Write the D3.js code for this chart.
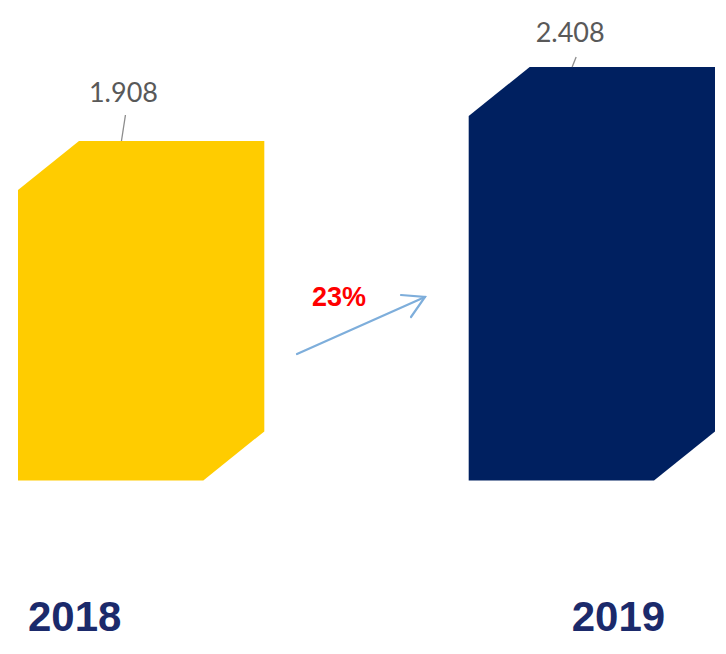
<!DOCTYPE html>
<html><head><meta charset="utf-8">
<script src="https://cdn.jsdelivr.net/npm/d3@7"></script>
<style>body{margin:0;background:#fff;}svg{display:block;}</style>
</head><body>
<svg id="c" width="726" height="654"></svg>
<script>
const categories = ["2018", "2019"];
const values = [1.908, 2.408];
const valueLabels = ["1.908", "2.408"];
const colors = ["#FFCC00", "#002060"];
const growthLabel = "23%";

const svg = d3.select("#c");
const x = d3.scaleBand().domain(categories).range([18, 715]).paddingInner(0.4535).paddingOuter(0);
const y = d3.scaleLinear().domain([0, 2.408]).range([423.4, 67]);
const depth = 57, bevelX = 61, bevelY = 49;

const g = svg.append("g");
categories.forEach((c, i) => {
  const x0 = x(c), x1 = x(c) + x.bandwidth();
  const yt = y(values[i]), yb = y(0) + depth;
  const pts = [[x0 + bevelX, yt], [x1, yt], [x1, yb - bevelY], [x1 - bevelX, yb], [x0, yb], [x0, yt + bevelY]];
  g.append("path").attr("d", d3.line()(pts) + "Z").attr("fill", colors[i]);
  const cx = x0 + x.bandwidth() * 0.42;
  g.append("line").attr("x1", cx + 4).attr("y1", yt - (i === 0 ? 26 : 10)).attr("x2", cx).attr("y2", yt)
    .attr("stroke", "#8c8c8c").attr("stroke-width", 1.3);
  g.append("text").attr("x", cx + (i === 0 ? 2 : -2)).attr("y", yt - (i === 0 ? 39 : 25))
    .attr("text-anchor", "middle").attr("font-family", "Lato, 'Open Sans', sans-serif")
    .attr("font-size", 27).attr("fill", "#595959").text(valueLabels[i]);
  g.append("text").attr("x", x0 + (i === 0 ? 10 : 103)).attr("y", 631)
    .attr("font-family", "'Liberation Sans', Arial, sans-serif").attr("font-weight", "bold")
    .attr("font-size", 42).attr("fill", "#1B2A6B").text(c);
});

// growth arrow
const ax0 = 297, ay0 = 354, ax1 = 425, ay1 = 297;
const arr = svg.append("g").attr("stroke", "#7EAEDB").attr("stroke-width", 2.2).attr("fill", "none").attr("stroke-linecap", "round");
arr.append("line").attr("x1", ax0).attr("y1", ay0).attr("x2", ax1).attr("y2", ay1);
arr.append("path").attr("d", `M${ax1 - 24},${ay1 - 2} L${ax1},${ay1} L${ax1 - 14},${ay1 + 20}`);
svg.append("text").attr("x", 312).attr("y", 306).attr("font-family", "'Liberation Sans', Arial, sans-serif")
  .attr("font-weight", "bold").attr("font-size", 27).attr("fill", "#FF0000").text(growthLabel);
</script>
</body></html>
